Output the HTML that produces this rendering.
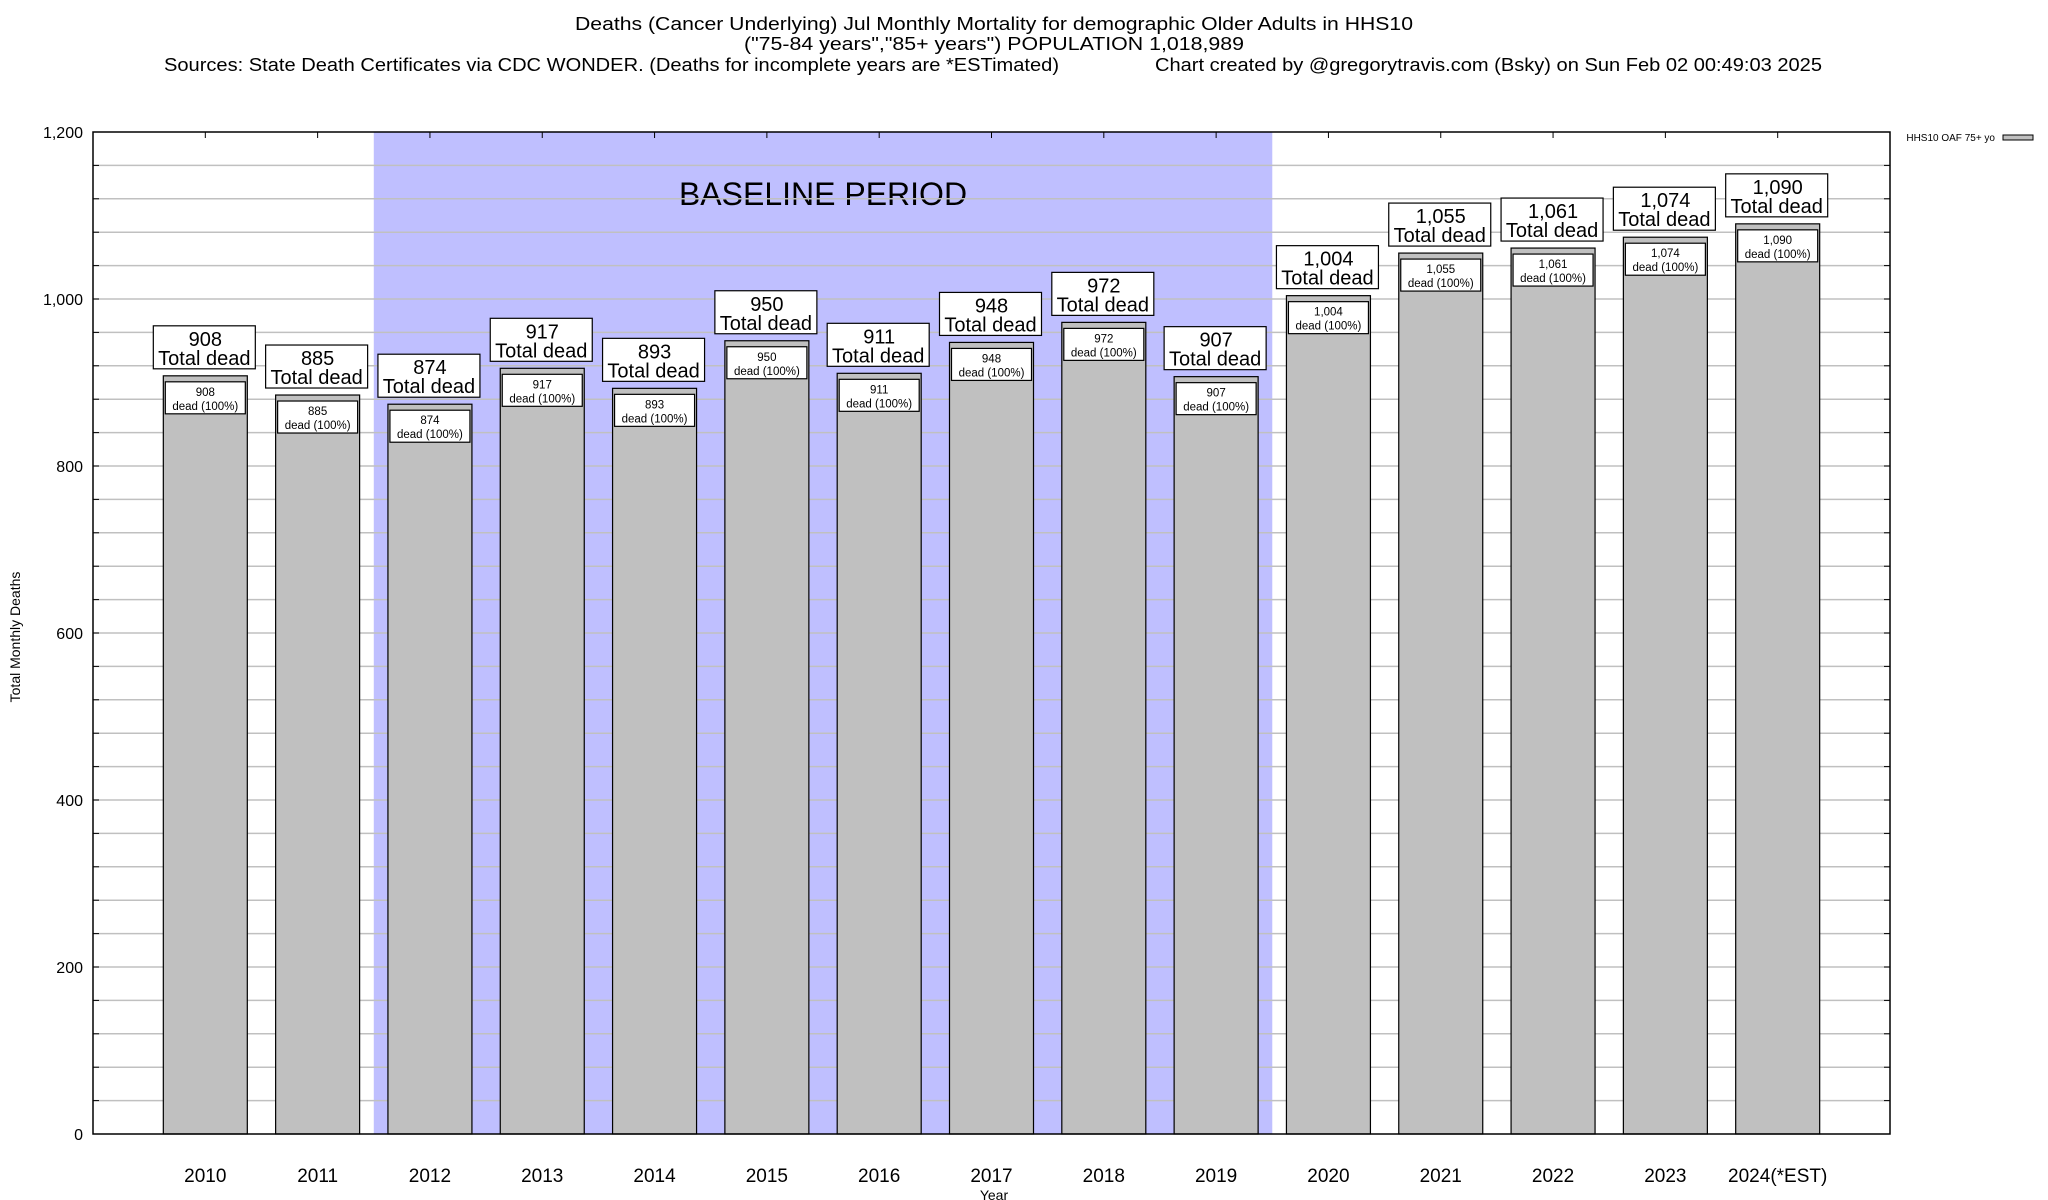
<!DOCTYPE html>
<html><head><meta charset="utf-8"><style>
html,body{margin:0;padding:0;background:#fff}
svg{display:block;font-family:"Liberation Sans",sans-serif}
</style></head><body>
<svg id="chart" width="2048" height="1200" viewBox="0 0 2048 1200" xmlns="http://www.w3.org/2000/svg">
<text x="994" y="30" font-size="18" text-anchor="middle" textLength="838" lengthAdjust="spacingAndGlyphs">Deaths (Cancer Underlying) Jul Monthly Mortality for demographic Older Adults in HHS10</text>
<text x="994" y="50" font-size="18" text-anchor="middle" textLength="500" lengthAdjust="spacingAndGlyphs">("75-84 years","85+ years") POPULATION 1,018,989</text>
<text x="164" y="71" font-size="18" textLength="895" lengthAdjust="spacingAndGlyphs">Sources: State Death Certificates via CDC WONDER. (Deaths for incomplete years are *ESTimated)</text>
<text x="1155" y="71" font-size="18" textLength="667" lengthAdjust="spacingAndGlyphs">Chart created by @gregorytravis.com (Bsky) on Sun Feb 02 00:49:03 2025</text>
<g id="plot"></g>
<text transform="translate(20,637) rotate(-90)" font-size="14" text-anchor="middle">Total Monthly Deaths</text>
<text x="994" y="1200" font-size="14" text-anchor="middle">Year</text>
<g>
<text x="1995" y="141" font-size="10" text-anchor="end">HHS10 OAF 75+ yo</text>
<rect x="2003" y="135" width="30" height="5" fill="#c0c0c0" stroke="#000" stroke-width="1"/>
</g>
</svg>
<script>
const categories = ["2010","2011","2012","2013","2014","2015","2016","2017","2018","2019","2020","2021","2022","2023","2024(*EST)"];
const values = [908,885,874,917,893,950,911,948,972,907,1004,1055,1061,1074,1090];
const yTicks = [0,200,400,600,800,1000,1200];
const baselineStart = 2, baselineEnd = 9;

const NS="http://www.w3.org/2000/svg";
const L=93,R=1890,T=132,B=1134,yMax=1200;
const step=(R-L)/16;
const x=i=>L+(i+1)*step;
const y=v=>B-(v/yMax)*(B-T);
const fmt=v=>v.toLocaleString("en-US");
const plot=document.getElementById("plot");
function mk(tag,attrs,parent){const e=document.createElementNS(NS,tag);for(const k in attrs)e.setAttribute(k,attrs[k]);(parent||plot).appendChild(e);return e;}

// baseline band
const band=mk("rect",{x:x(baselineStart)-step/2,y:T,width:(baselineEnd-baselineStart+1)*step,height:B-T,fill:"#bfbfff"});


const bt=mk("text",{x:823,y:205,"font-size":32,"text-anchor":"middle"});
bt.textContent="BASELINE PERIOD";



// grid
for(let v=40;v<yMax;v+=40){
  const g=mk("line",{x1:L,x2:R,y1:y(v),y2:y(v),stroke:"#c0c0c0","stroke-width":1.5});
  
  
  mk("line",{x1:L,x2:L+6,y1:y(v),y2:y(v),stroke:"#000"});
  mk("line",{x1:R-6,x2:R,y1:y(v),y2:y(v),stroke:"#000"});
}
yTicks.forEach(v=>{
  const t=mk("text",{x:83,y:y(v)+6,"font-size":16,"text-anchor":"end"});
  t.textContent=fmt(v);
  
  
});

// bars
categories.forEach((c,i)=>{
  const v=values[i],cx=x(i),w=84,top=y(v);
  const bar=mk("rect",{x:cx-w/2,y:top,width:w,height:B-top,fill:"#c0c0c0",stroke:"#000","stroke-width":1.2});
  
  
  mk("line",{x1:cx,x2:cx,y1:T,y2:T+6,stroke:"#000"});
  // inner label
  const ib=mk("rect",{x:cx-40,y:top+6,width:80,height:32,fill:"#fff",stroke:"#000","stroke-width":1.2});
  
  
  const t1=mk("text",{x:cx,y:top+20,"font-size":11.5,"text-anchor":"middle"});t1.textContent=fmt(v);
  
  
  const t2=mk("text",{x:cx,y:top+34,"font-size":11.5,"text-anchor":"middle"});t2.textContent="dead (100%)";
  
  
  // outer label
  const ob=mk("rect",{x:cx-52,y:top-50,width:102,height:43,fill:"#fff",stroke:"#000","stroke-width":1.2});
  
  
  const o1=mk("text",{x:cx,y:top-30,"font-size":20,"text-anchor":"middle"});o1.textContent=fmt(v);
  
  
  const o2=mk("text",{x:cx-1,y:top-11,"font-size":20,"text-anchor":"middle"});o2.textContent="Total dead";
  
  
  const xl=mk("text",{x:cx,y:1182,"font-size":19,"text-anchor":"middle"});xl.textContent=c;
  
  
});
const frame=mk("rect",{x:L,y:T,width:R-L,height:B-T,fill:"none",stroke:"#000","stroke-width":1.5});


</script>
</body></html>
